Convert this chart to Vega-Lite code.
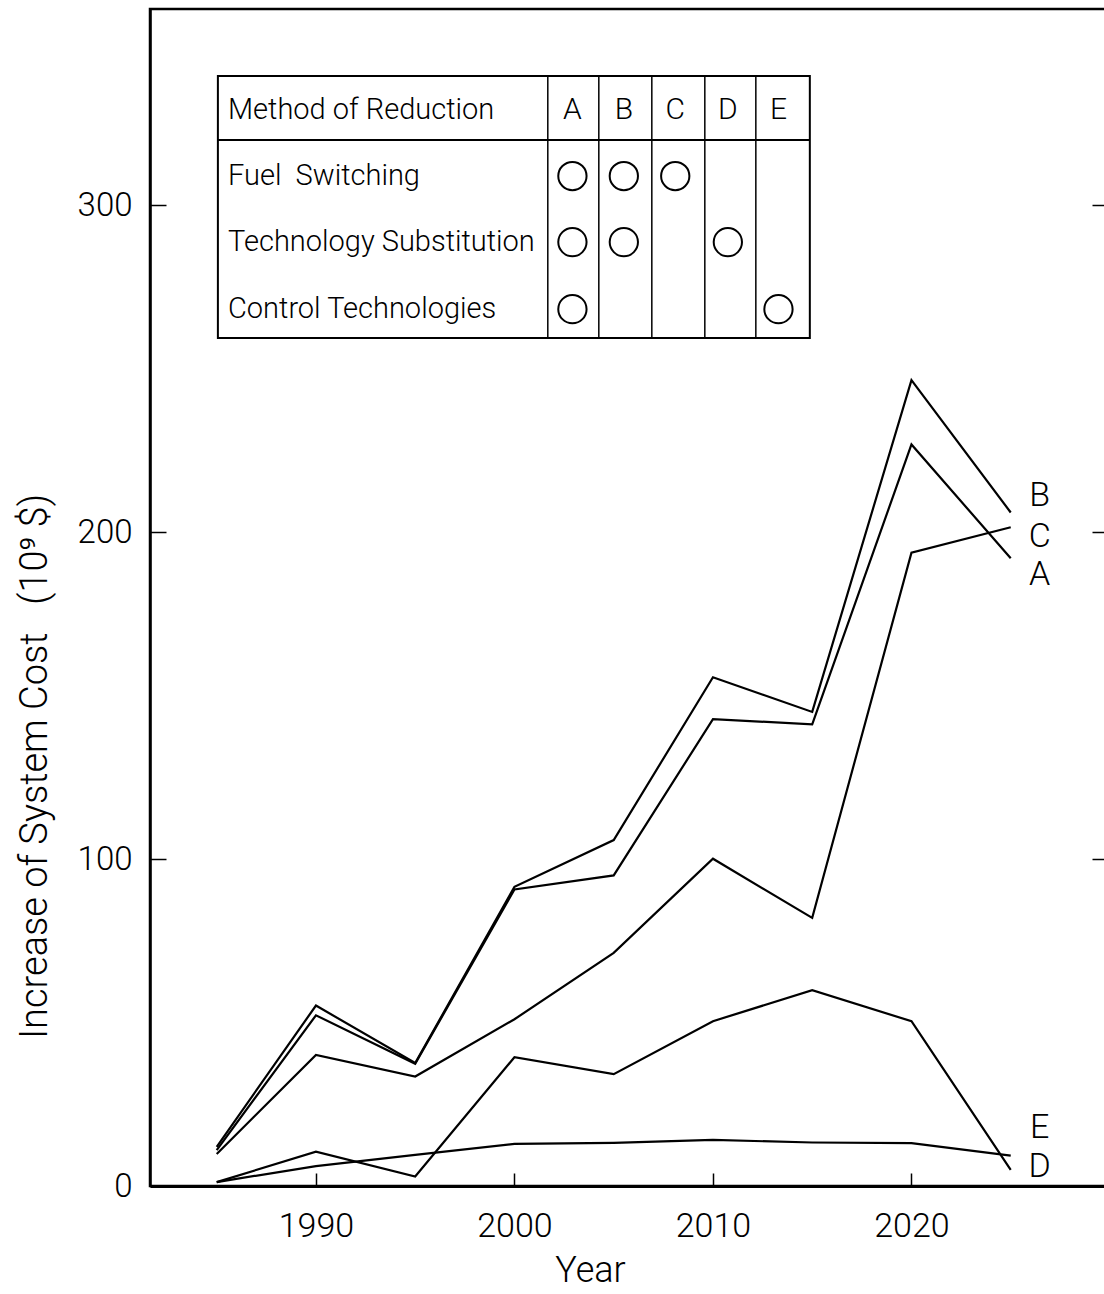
{
  "$schema": "https://vega.github.io/schema/vega-lite/v6.json",
  "width": 956,
  "height": 1177,
  "autosize": {"type": "none"},
  "padding": {"left": 150, "top": 9, "right": 0, "bottom": 108},
  "background": "white",
  "config": {
    "font": "Roboto",
    "view": {"stroke": "black", "strokeWidth": 2.5},
    "axis": {"grid": false, "domainColor": "black", "tickColor": "black", "labelColor": "black", "titleColor": "black", "labelFontWeight": 300, "titleFontWeight": 300, "labelFont": "Roboto", "titleFont": "Roboto"},
    "text": {"font": "Roboto", "fontWeight": 300, "color": "black"}
  },
  "datasets": {
    "lines": [
      {"series": "B", "year": 1985, "value": 12.0},
      {"series": "B", "year": 1990, "value": 55.2},
      {"series": "B", "year": 1995, "value": 37.6},
      {"series": "B", "year": 2000, "value": 91.5},
      {"series": "B", "year": 2005, "value": 105.8},
      {"series": "B", "year": 2010, "value": 155.6},
      {"series": "B", "year": 2015, "value": 145.0},
      {"series": "B", "year": 2020, "value": 246.5},
      {"series": "B", "year": 2025, "value": 206.0},
      {"series": "A", "year": 1985, "value": 11.0},
      {"series": "A", "year": 1990, "value": 52.2},
      {"series": "A", "year": 1995, "value": 37.4},
      {"series": "A", "year": 2000, "value": 90.7},
      {"series": "A", "year": 2005, "value": 95.0},
      {"series": "A", "year": 2010, "value": 142.8},
      {"series": "A", "year": 2015, "value": 141.2},
      {"series": "A", "year": 2020, "value": 226.8},
      {"series": "A", "year": 2025, "value": 192.0},
      {"series": "C", "year": 1985, "value": 9.8},
      {"series": "C", "year": 1990, "value": 40.1},
      {"series": "C", "year": 1995, "value": 33.5},
      {"series": "C", "year": 2000, "value": 51.0},
      {"series": "C", "year": 2005, "value": 71.3},
      {"series": "C", "year": 2010, "value": 100.1},
      {"series": "C", "year": 2015, "value": 82.0},
      {"series": "C", "year": 2020, "value": 193.7},
      {"series": "C", "year": 2025, "value": 201.5},
      {"series": "D", "year": 1985, "value": 1.2},
      {"series": "D", "year": 1990, "value": 10.5},
      {"series": "D", "year": 1995, "value": 2.9},
      {"series": "D", "year": 2000, "value": 39.4},
      {"series": "D", "year": 2005, "value": 34.2},
      {"series": "D", "year": 2010, "value": 50.4},
      {"series": "D", "year": 2015, "value": 59.9},
      {"series": "D", "year": 2020, "value": 50.4},
      {"series": "D", "year": 2025, "value": 4.9},
      {"series": "E", "year": 1985, "value": 1.2},
      {"series": "E", "year": 1990, "value": 6.1},
      {"series": "E", "year": 1995, "value": 9.5},
      {"series": "E", "year": 2000, "value": 12.9},
      {"series": "E", "year": 2005, "value": 13.2},
      {"series": "E", "year": 2010, "value": 14.1},
      {"series": "E", "year": 2015, "value": 13.3},
      {"series": "E", "year": 2020, "value": 13.1},
      {"series": "E", "year": 2025, "value": 9.3}
    ],
    "lineLabels": [
      {"series": "B", "year": 2026.46, "value": 211.0},
      {"series": "C", "year": 2026.46, "value": 198.5},
      {"series": "A", "year": 2026.46, "value": 187.0},
      {"series": "E", "year": 2026.46, "value": 17.7},
      {"series": "D", "year": 2026.46, "value": 5.8}
    ],
    "tableBox": [
      {"year": 1985.06, "year2": 2014.88, "value": 339.5, "value2": 259.4}
    ],
    "tableColumnRules": [
      {"year": 2001.68},
      {"year": 2004.25},
      {"year": 2006.92},
      {"year": 2009.59},
      {"year": 2012.16}
    ],
    "tableColumns": [
      {"scenario": "A", "year": 2002.92},
      {"scenario": "B", "year": 2005.51},
      {"scenario": "C", "year": 2008.1},
      {"scenario": "D", "year": 2010.75},
      {"scenario": "E", "year": 2013.3}
    ],
    "tableRows": [
      {"method": "Method of Reduction", "label": "Method of Reduction", "value": 329.1},
      {"method": "Fuel Switching", "label": "Fuel\u00a0\u00a0Switching", "value": 308.9},
      {"method": "Technology Substitution", "label": "Technology Substitution", "value": 288.7},
      {"method": "Control Technologies", "label": "Control Technologies", "value": 268.2}
    ],
    "methodUse": [
      {"scenario": "A", "method": "Fuel Switching"},
      {"scenario": "B", "method": "Fuel Switching"},
      {"scenario": "C", "method": "Fuel Switching"},
      {"scenario": "A", "method": "Technology Substitution"},
      {"scenario": "B", "method": "Technology Substitution"},
      {"scenario": "D", "method": "Technology Substitution"},
      {"scenario": "A", "method": "Control Technologies"},
      {"scenario": "E", "method": "Control Technologies"}
    ]
  },
  "resolve": {"axis": {"y": "independent"}},
  "layer": [
    {
      "data": {"name": "lines"},
      "mark": {"type": "line", "stroke": "black", "strokeWidth": 2.2, "strokeJoin": "miter"},
      "encoding": {
        "x": {
          "field": "year", "type": "quantitative",
          "scale": {"domain": [1981.64, 2029.8], "nice": false, "zero": false},
          "axis": {
            "orient": "bottom", "title": "Year", "values": [1990, 2000, 2010, 2020], "format": "d",
            "domainWidth": 3, "tickSize": -13, "tickWidth": 1.5,
            "labelFontSize": 34, "labelPadding": 36, "labelBaseline": "top",
            "titleFontSize": 36, "titleX": 440, "titleY": 84, "titleBaseline": "middle", "titleAlign": "center"
          }
        },
        "y": {
          "field": "value", "type": "quantitative",
          "scale": {"domain": [0, 360], "nice": false, "zero": true},
          "axis": {
            "orient": "left", "title": "Increase of System Cost\u00a0\u00a0\u00a0(10\u2079 $)", "values": [0, 100, 200, 300], "format": "d",
            "domainWidth": 2.5, "tickSize": -16, "tickWidth": 1.5,
            "labelFontSize": 33, "labelPadding": 34, "labelBaseline": "middle",
            "titleFontSize": 38, "titleAngle": -90, "titleX": -115, "titleY": 757, "titleAlign": "center", "titleBaseline": "middle"
          }
        },
        "detail": {"field": "series", "type": "nominal"}
      }
    },
    {
      "data": {"name": "lines"},
      "mark": {"type": "point", "opacity": 0},
      "encoding": {
        "x": {"field": "year", "type": "quantitative"},
        "y": {
          "field": "value", "type": "quantitative",
          "axis": {"orient": "right", "title": null, "values": [100, 200, 300], "labels": false, "domain": false, "tickSize": -14, "tickWidth": 1.5}
        }
      }
    },
    {
      "data": {"name": "lineLabels"},
      "mark": {"type": "text", "fontSize": 34, "align": "center", "baseline": "middle"},
      "encoding": {
        "x": {"field": "year", "type": "quantitative"},
        "y": {"field": "value", "type": "quantitative", "axis": null},
        "text": {"field": "series"}
      }
    },
    {
      "data": {"name": "tableBox"},
      "mark": {"type": "rect", "fill": "white", "stroke": "black", "strokeWidth": 2},
      "encoding": {
        "x": {"field": "year", "type": "quantitative"},
        "x2": {"field": "year2"},
        "y": {"field": "value", "type": "quantitative", "axis": null},
        "y2": {"field": "value2"}
      }
    },
    {
      "data": {"name": "tableColumnRules"},
      "mark": {"type": "rule", "stroke": "black", "strokeWidth": 1.5},
      "encoding": {
        "x": {"field": "year", "type": "quantitative"},
        "y": {"datum": 339.5, "type": "quantitative", "axis": null},
        "y2": {"datum": 259.4}
      }
    },
    {
      "data": {"name": "tableBox"},
      "mark": {"type": "rule", "stroke": "black", "strokeWidth": 2},
      "encoding": {
        "x": {"field": "year", "type": "quantitative"},
        "x2": {"field": "year2"},
        "y": {"datum": 319.9, "type": "quantitative", "axis": null}
      }
    },
    {
      "data": {"name": "tableRows"},
      "mark": {"type": "text", "fontSize": 29, "align": "left", "baseline": "middle"},
      "encoding": {
        "x": {"datum": 1985.57, "type": "quantitative"},
        "y": {"field": "value", "type": "quantitative", "axis": null},
        "text": {"field": "label"}
      }
    },
    {
      "data": {"name": "tableColumns"},
      "mark": {"type": "text", "fontSize": 30, "align": "center", "baseline": "middle"},
      "encoding": {
        "x": {"field": "year", "type": "quantitative"},
        "y": {"datum": 329.1, "type": "quantitative", "axis": null},
        "text": {"field": "scenario"}
      }
    },
    {
      "data": {"name": "methodUse"},
      "transform": [
        {"lookup": "scenario", "from": {"data": {"name": "tableColumns"}, "key": "scenario", "fields": ["year"]}},
        {"lookup": "method", "from": {"data": {"name": "tableRows"}, "key": "method", "fields": ["value"]}}
      ],
      "mark": {"type": "point", "shape": "circle", "size": 800, "filled": false, "stroke": "black", "strokeWidth": 2, "opacity": 1},
      "encoding": {
        "x": {"field": "year", "type": "quantitative"},
        "y": {"field": "value", "type": "quantitative", "axis": null}
      }
    }
  ]
}
